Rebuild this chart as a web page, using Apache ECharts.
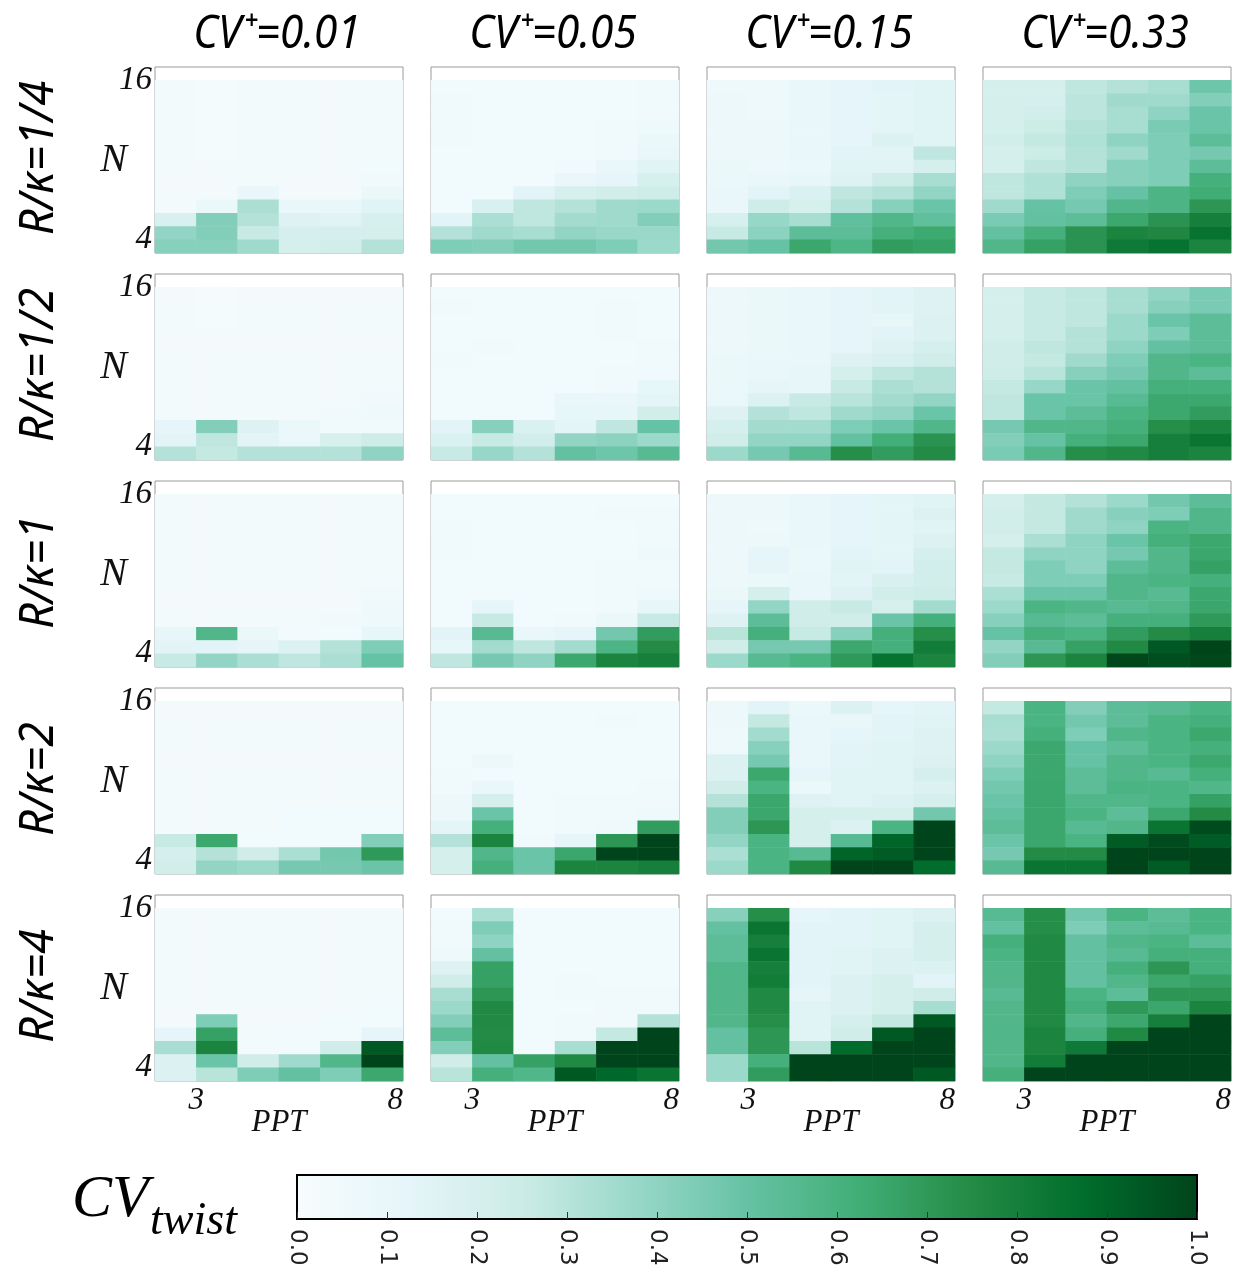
<!DOCTYPE html>
<html>
<head>
<meta charset="utf-8">
<script src="https://cdn.jsdelivr.net/npm/echarts@6/dist/echarts.min.js"></script>
<style>
  html, body { margin: 0; padding: 0; background: #ffffff; }
  #chart { width: 1239px; height: 1272px; }
</style>
</head>
<body>
<div id="chart"></div>
<script>
// Axes of every panel
const PPT = [3, 4, 5, 6, 7, 8];
const N_SLOTS = [4, 5, 6, 7, 8, 9, 10, 11, 12, 13, 14, 15, 16, 17]; // 17 is an empty headroom row
const X_TICKS = [3, 8];
const Y_TICKS = [4, 16];
const CV_LEVELS = ['0.01', '0.05', '0.15', '0.33'];
const RK_LEVELS = ['1/4', '1/2', '1', '2', '4'];
const CBAR_TICKS = [0, 0.1, 0.2, 0.3, 0.4, 0.5, 0.6, 0.7, 0.8, 0.9, 1.0];
// matplotlib BuGn
const BUGN = ['#f7fcfd', '#e5f5f9', '#ccece6', '#99d8c9', '#66c2a4', '#41ae76', '#238b45', '#006d2c', '#00441b'];

// CV_twist per panel: rows from N=16 (top) down to N=4, columns PPT 3..8
const cv001_rk1_4 = [
  [0.03,0.02,0.03,0.03,0.03,0.03],
  [0.03,0.02,0.03,0.03,0.03,0.03],
  [0.03,0.02,0.03,0.03,0.03,0.03],
  [0.03,0.02,0.03,0.03,0.03,0.03],
  [0.03,0.02,0.03,0.03,0.03,0.03],
  [0.03,0.02,0.03,0.03,0.03,0.03],
  [0.03,0.03,0.03,0.03,0.03,0.04],
  [0.03,0.03,0.03,0.03,0.03,0.05],
  [0.03,0.03,0.10,0.03,0.03,0.08],
  [0.03,0.08,0.33,0.09,0.09,0.15],
  [0.19,0.43,0.31,0.16,0.15,0.20],
  [0.39,0.43,0.26,0.21,0.21,0.21],
  [0.42,0.42,0.36,0.21,0.22,0.31]
];
const cv005_rk1_4 = [
  [0.04,0.04,0.04,0.04,0.04,0.05],
  [0.05,0.04,0.04,0.04,0.04,0.05],
  [0.05,0.04,0.04,0.04,0.04,0.05],
  [0.05,0.04,0.04,0.04,0.05,0.06],
  [0.05,0.04,0.04,0.04,0.05,0.08],
  [0.04,0.04,0.04,0.04,0.05,0.10],
  [0.04,0.04,0.04,0.05,0.10,0.15],
  [0.04,0.04,0.04,0.09,0.12,0.20],
  [0.04,0.04,0.14,0.20,0.22,0.24],
  [0.04,0.19,0.28,0.31,0.36,0.37],
  [0.14,0.33,0.28,0.35,0.36,0.43],
  [0.31,0.36,0.34,0.39,0.375,0.375],
  [0.44,0.43,0.47,0.47,0.44,0.37]
];
const cv015_rk1_4 = [
  [0.06,0.06,0.10,0.12,0.14,0.15],
  [0.07,0.06,0.10,0.12,0.13,0.15],
  [0.07,0.06,0.10,0.12,0.13,0.15],
  [0.07,0.07,0.09,0.12,0.13,0.15],
  [0.07,0.07,0.09,0.12,0.17,0.15],
  [0.07,0.07,0.09,0.14,0.14,0.28],
  [0.08,0.07,0.08,0.15,0.15,0.21],
  [0.08,0.10,0.11,0.16,0.24,0.34],
  [0.10,0.14,0.18,0.28,0.31,0.39],
  [0.10,0.24,0.20,0.31,0.42,0.49],
  [0.20,0.38,0.34,0.52,0.57,0.52],
  [0.26,0.41,0.53,0.53,0.61,0.64],
  [0.47,0.50,0.65,0.58,0.69,0.67]
];
const cv033_rk1_4 = [
  [0.21,0.21,0.28,0.31,0.34,0.48],
  [0.21,0.21,0.29,0.36,0.36,0.43],
  [0.21,0.22,0.29,0.34,0.40,0.49],
  [0.21,0.25,0.31,0.34,0.45,0.49],
  [0.22,0.27,0.32,0.40,0.44,0.53],
  [0.21,0.25,0.31,0.36,0.44,0.46],
  [0.21,0.28,0.31,0.42,0.44,0.53],
  [0.28,0.32,0.40,0.42,0.44,0.61],
  [0.28,0.32,0.44,0.50,0.585,0.63],
  [0.36,0.50,0.46,0.57,0.585,0.71],
  [0.45,0.51,0.53,0.645,0.72,0.80],
  [0.51,0.61,0.72,0.78,0.765,0.85],
  [0.57,0.67,0.72,0.82,0.85,0.78]
];

const cv001_rk1_2 = [
  [0.03,0.02,0.03,0.03,0.03,0.03],
  [0.03,0.02,0.03,0.03,0.03,0.03],
  [0.03,0.02,0.03,0.03,0.03,0.03],
  [0.03,0.03,0.03,0.03,0.03,0.03],
  [0.03,0.03,0.03,0.03,0.03,0.03],
  [0.03,0.03,0.03,0.03,0.03,0.03],
  [0.03,0.03,0.03,0.03,0.03,0.03],
  [0.03,0.03,0.03,0.03,0.03,0.03],
  [0.03,0.03,0.03,0.03,0.03,0.05],
  [0.03,0.03,0.03,0.03,0.05,0.06],
  [0.12,0.43,0.16,0.08,0.05,0.05],
  [0.14,0.28,0.14,0.10,0.20,0.24],
  [0.31,0.27,0.31,0.31,0.31,0.40]
];
const cv005_rk1_2 = [
  [0.04,0.04,0.04,0.04,0.04,0.04],
  [0.05,0.04,0.04,0.04,0.05,0.04],
  [0.04,0.04,0.04,0.04,0.05,0.04],
  [0.04,0.04,0.04,0.04,0.05,0.04],
  [0.04,0.05,0.04,0.04,0.04,0.05],
  [0.05,0.04,0.04,0.04,0.04,0.05],
  [0.04,0.04,0.04,0.04,0.05,0.05],
  [0.04,0.04,0.04,0.04,0.05,0.11],
  [0.04,0.04,0.04,0.10,0.10,0.13],
  [0.04,0.04,0.04,0.11,0.11,0.22],
  [0.14,0.42,0.18,0.13,0.28,0.50],
  [0.18,0.26,0.22,0.39,0.41,0.37],
  [0.26,0.38,0.31,0.51,0.48,0.55]
];
const cv015_rk1_2 = [
  [0.07,0.08,0.10,0.12,0.14,0.16],
  [0.07,0.08,0.10,0.12,0.14,0.16],
  [0.07,0.08,0.10,0.12,0.11,0.17],
  [0.07,0.08,0.10,0.12,0.14,0.17],
  [0.07,0.08,0.10,0.12,0.16,0.21],
  [0.08,0.10,0.10,0.16,0.19,0.23],
  [0.08,0.10,0.11,0.21,0.28,0.31],
  [0.08,0.12,0.11,0.26,0.33,0.31],
  [0.10,0.17,0.26,0.30,0.35,0.39],
  [0.16,0.31,0.28,0.36,0.39,0.49],
  [0.21,0.35,0.35,0.44,0.49,0.57],
  [0.23,0.39,0.39,0.51,0.62,0.72],
  [0.37,0.46,0.55,0.74,0.69,0.75]
];
const cv033_rk1_2 = [
  [0.21,0.26,0.28,0.34,0.39,0.45],
  [0.21,0.26,0.28,0.34,0.42,0.45],
  [0.21,0.26,0.28,0.37,0.49,0.53],
  [0.21,0.26,0.31,0.37,0.44,0.53],
  [0.23,0.28,0.31,0.40,0.51,0.53],
  [0.23,0.27,0.36,0.44,0.57,0.59],
  [0.24,0.30,0.42,0.46,0.57,0.53],
  [0.27,0.38,0.49,0.51,0.61,0.61],
  [0.28,0.49,0.49,0.55,0.645,0.645],
  [0.28,0.49,0.53,0.59,0.645,0.69],
  [0.46,0.57,0.57,0.61,0.74,0.78],
  [0.43,0.50,0.61,0.645,0.80,0.84],
  [0.45,0.57,0.74,0.76,0.80,0.78]
];

const cv001_rk1 = [
  [0.03,0.03,0.03,0.03,0.03,0.03],
  [0.03,0.03,0.03,0.03,0.03,0.03],
  [0.03,0.03,0.03,0.03,0.03,0.03],
  [0.03,0.03,0.03,0.03,0.03,0.03],
  [0.03,0.03,0.03,0.03,0.03,0.03],
  [0.03,0.03,0.03,0.03,0.03,0.03],
  [0.03,0.03,0.03,0.03,0.03,0.03],
  [0.03,0.03,0.03,0.03,0.03,0.05],
  [0.03,0.03,0.03,0.03,0.03,0.06],
  [0.03,0.03,0.03,0.03,0.05,0.06],
  [0.11,0.57,0.08,0.04,0.04,0.11],
  [0.14,0.14,0.12,0.17,0.31,0.44],
  [0.26,0.39,0.33,0.28,0.33,0.50]
];
const cv005_rk1 = [
  [0.04,0.04,0.04,0.04,0.04,0.04],
  [0.04,0.04,0.04,0.04,0.05,0.05],
  [0.05,0.04,0.04,0.04,0.04,0.05],
  [0.05,0.04,0.04,0.04,0.04,0.05],
  [0.05,0.04,0.04,0.04,0.04,0.06],
  [0.04,0.04,0.04,0.04,0.05,0.05],
  [0.04,0.04,0.04,0.04,0.05,0.05],
  [0.04,0.04,0.04,0.04,0.05,0.06],
  [0.04,0.12,0.04,0.04,0.05,0.11],
  [0.04,0.26,0.04,0.05,0.08,0.26],
  [0.14,0.55,0.09,0.12,0.47,0.69],
  [0.11,0.35,0.28,0.35,0.585,0.75],
  [0.28,0.46,0.40,0.645,0.78,0.80]
];
const cv015_rk1 = [
  [0.07,0.07,0.10,0.12,0.13,0.15],
  [0.07,0.07,0.10,0.12,0.13,0.17],
  [0.07,0.06,0.10,0.12,0.13,0.15],
  [0.07,0.07,0.10,0.12,0.13,0.17],
  [0.07,0.12,0.08,0.14,0.13,0.21],
  [0.07,0.12,0.08,0.15,0.14,0.22],
  [0.07,0.08,0.10,0.14,0.19,0.22],
  [0.08,0.21,0.10,0.16,0.22,0.24],
  [0.12,0.39,0.23,0.26,0.21,0.35],
  [0.16,0.53,0.23,0.23,0.49,0.61],
  [0.30,0.61,0.26,0.42,0.61,0.74],
  [0.23,0.46,0.46,0.645,0.61,0.81],
  [0.37,0.55,0.59,0.70,0.85,0.78]
];
const cv033_rk1 = [
  [0.21,0.27,0.31,0.37,0.47,0.53],
  [0.22,0.27,0.36,0.42,0.44,0.57],
  [0.22,0.27,0.36,0.40,0.59,0.57],
  [0.21,0.33,0.40,0.49,0.61,0.645],
  [0.27,0.40,0.40,0.46,0.57,0.65],
  [0.27,0.44,0.40,0.53,0.57,0.67],
  [0.26,0.44,0.44,0.57,0.59,0.61],
  [0.33,0.49,0.49,0.57,0.55,0.645],
  [0.37,0.59,0.57,0.55,0.57,0.65],
  [0.42,0.55,0.53,0.61,0.61,0.70],
  [0.50,0.61,0.59,0.69,0.75,0.80],
  [0.39,0.55,0.67,0.76,0.94,1.00],
  [0.43,0.71,0.78,0.99,0.97,0.99]
];

const cv001_rk2 = [
  [0.03,0.03,0.03,0.03,0.03,0.03],
  [0.03,0.03,0.03,0.03,0.03,0.03],
  [0.03,0.03,0.03,0.03,0.03,0.03],
  [0.03,0.03,0.03,0.03,0.03,0.03],
  [0.03,0.03,0.03,0.03,0.03,0.03],
  [0.03,0.03,0.03,0.03,0.03,0.03],
  [0.03,0.03,0.03,0.03,0.03,0.03],
  [0.03,0.03,0.03,0.03,0.03,0.03],
  [0.03,0.03,0.03,0.04,0.04,0.04],
  [0.03,0.03,0.03,0.04,0.04,0.04],
  [0.26,0.645,0.04,0.04,0.04,0.43],
  [0.21,0.31,0.23,0.33,0.47,0.70],
  [0.22,0.39,0.37,0.46,0.46,0.49]
];
const cv005_rk2 = [
  [0.04,0.04,0.04,0.04,0.04,0.04],
  [0.04,0.04,0.04,0.04,0.05,0.04],
  [0.04,0.04,0.04,0.04,0.04,0.04],
  [0.04,0.04,0.04,0.04,0.04,0.04],
  [0.04,0.07,0.04,0.04,0.04,0.04],
  [0.05,0.04,0.04,0.04,0.04,0.04],
  [0.05,0.10,0.04,0.04,0.04,0.05],
  [0.07,0.21,0.04,0.05,0.05,0.05],
  [0.07,0.49,0.04,0.05,0.05,0.06],
  [0.13,0.61,0.04,0.05,0.06,0.69],
  [0.31,0.78,0.05,0.12,0.71,1.00],
  [0.21,0.57,0.49,0.65,1.00,1.00],
  [0.21,0.61,0.49,0.78,0.78,0.80]
];
const cv015_rk2 = [
  [0.07,0.14,0.08,0.17,0.12,0.14],
  [0.07,0.27,0.10,0.10,0.14,0.15],
  [0.06,0.35,0.10,0.12,0.14,0.16],
  [0.06,0.42,0.10,0.14,0.15,0.16],
  [0.17,0.46,0.10,0.14,0.15,0.17],
  [0.17,0.645,0.12,0.15,0.15,0.21],
  [0.23,0.59,0.08,0.15,0.15,0.17],
  [0.31,0.65,0.16,0.15,0.17,0.21],
  [0.43,0.65,0.21,0.21,0.21,0.47],
  [0.43,0.71,0.21,0.17,0.59,1.00],
  [0.39,0.59,0.21,0.55,0.90,1.00],
  [0.33,0.59,0.55,0.90,0.93,1.00],
  [0.37,0.59,0.76,1.00,1.00,0.875]
];
const cv033_rk2 = [
  [0.27,0.59,0.43,0.53,0.55,0.59],
  [0.34,0.59,0.47,0.53,0.59,0.61],
  [0.33,0.61,0.44,0.57,0.59,0.645],
  [0.37,0.645,0.50,0.53,0.59,0.61],
  [0.40,0.645,0.50,0.57,0.59,0.645],
  [0.44,0.645,0.53,0.57,0.55,0.61],
  [0.47,0.65,0.53,0.59,0.59,0.57],
  [0.49,0.65,0.57,0.57,0.59,0.67],
  [0.51,0.65,0.59,0.53,0.645,0.75],
  [0.53,0.65,0.55,0.57,0.84,0.98],
  [0.49,0.65,0.59,0.93,0.98,0.93],
  [0.46,0.75,0.75,1.00,1.00,1.00],
  [0.55,0.84,0.84,1.00,0.93,1.00]
];

const cv001_rk4 = [
  [0.03,0.03,0.03,0.03,0.03,0.03],
  [0.03,0.03,0.03,0.03,0.03,0.03],
  [0.03,0.03,0.03,0.03,0.03,0.03],
  [0.03,0.03,0.03,0.03,0.03,0.03],
  [0.03,0.03,0.03,0.03,0.03,0.03],
  [0.03,0.03,0.03,0.03,0.03,0.03],
  [0.03,0.03,0.03,0.03,0.03,0.03],
  [0.03,0.03,0.03,0.03,0.03,0.04],
  [0.03,0.44,0.03,0.03,0.04,0.04],
  [0.12,0.67,0.03,0.04,0.04,0.12],
  [0.34,0.78,0.04,0.04,0.23,0.94],
  [0.17,0.49,0.23,0.36,0.57,1.00],
  [0.17,0.30,0.44,0.51,0.44,0.645]
];
const cv005_rk4 = [
  [0.04,0.33,0.04,0.04,0.04,0.04],
  [0.05,0.44,0.04,0.04,0.04,0.04],
  [0.05,0.40,0.04,0.04,0.04,0.04],
  [0.06,0.51,0.04,0.04,0.04,0.04],
  [0.16,0.67,0.04,0.04,0.04,0.04],
  [0.23,0.67,0.04,0.05,0.04,0.04],
  [0.34,0.71,0.04,0.05,0.05,0.05],
  [0.37,0.76,0.04,0.04,0.05,0.05],
  [0.43,0.76,0.04,0.05,0.05,0.31],
  [0.53,0.75,0.04,0.05,0.27,1.00],
  [0.43,0.76,0.04,0.34,1.00,1.00],
  [0.23,0.51,0.67,0.76,1.00,1.00],
  [0.30,0.61,0.57,0.94,0.89,0.84]
];
const cv015_rk4 = [
  [0.42,0.74,0.12,0.14,0.15,0.17],
  [0.51,0.84,0.14,0.14,0.15,0.21],
  [0.53,0.80,0.14,0.14,0.15,0.21],
  [0.53,0.84,0.14,0.15,0.17,0.21],
  [0.57,0.80,0.14,0.15,0.17,0.17],
  [0.57,0.81,0.14,0.17,0.21,0.14],
  [0.57,0.76,0.12,0.17,0.21,0.23],
  [0.57,0.76,0.15,0.17,0.21,0.34],
  [0.57,0.74,0.15,0.21,0.27,0.94],
  [0.51,0.71,0.15,0.23,0.94,1.00],
  [0.51,0.71,0.30,0.88,1.00,1.00],
  [0.37,0.61,1.00,1.00,1.00,1.00],
  [0.37,0.69,1.00,1.00,1.00,0.94]
];
const cv033_rk4 = [
  [0.55,0.74,0.47,0.59,0.53,0.59],
  [0.51,0.74,0.44,0.53,0.55,0.59],
  [0.61,0.76,0.51,0.57,0.59,0.53],
  [0.59,0.76,0.51,0.55,0.61,0.61],
  [0.57,0.76,0.51,0.61,0.71,0.61],
  [0.57,0.76,0.51,0.57,0.645,0.67],
  [0.55,0.76,0.59,0.53,0.71,0.71],
  [0.57,0.76,0.61,0.70,0.65,0.78],
  [0.57,0.76,0.57,0.645,0.80,1.00],
  [0.57,0.78,0.61,0.76,1.00,1.00],
  [0.57,0.78,0.82,1.00,1.00,1.00],
  [0.57,0.81,1.00,1.00,1.00,1.00],
  [0.61,1.00,1.00,1.00,1.00,1.00]
];

// Panel layout: rows R/kappa, columns CV+
const PANELS = [
  [cv001_rk1_4, cv005_rk1_4, cv015_rk1_4, cv033_rk1_4],
  [cv001_rk1_2, cv005_rk1_2, cv015_rk1_2, cv033_rk1_2],
  [cv001_rk1,   cv005_rk1,   cv015_rk1,   cv033_rk1],
  [cv001_rk2,   cv005_rk2,   cv015_rk2,   cv033_rk2],
  [cv001_rk4,   cv005_rk4,   cv015_rk4,   cv033_rk4]
];

const PANEL_LEFT = 155, PANEL_TOP = 67, PANEL_W = 248, PANEL_H = 186, STEP_X = 276, STEP_Y = 207;
const SERIF_IT = { fontFamily: 'Liberation Serif', fontStyle: 'italic', color: '#111' };
const SANS_IT = { fontFamily: 'Noto Sans', fontStyle: 'italic' };

const grid = [], xAxis = [], yAxis = [], series = [], graphic = [];
const nRows = PANELS.length;

PANELS.forEach((row, r) => {
  row.forEach((panel, c) => {
    const g = grid.length;
    const left = PANEL_LEFT + c * STEP_X;
    const top = PANEL_TOP + r * STEP_Y;
    grid.push({
      left, top, width: PANEL_W, height: PANEL_H,
      show: true, borderColor: '#9a9a9a', borderWidth: 1, backgroundColor: 'transparent'
    });
    // category axes carry the cells
    const xCat = xAxis.length;
    xAxis.push({ type: 'category', gridIndex: g, data: PPT.map(String), show: false });
    const yCat = yAxis.length;
    yAxis.push({ type: 'category', gridIndex: g, data: N_SLOTS.map(String), show: false });
    // value axes carry the tick labels
    const bottomRow = r === nRows - 1, firstCol = c === 0;
    xAxis.push({
      type: 'value', gridIndex: g, min: 2, max: 8, position: 'bottom',
      show: bottomRow,
      axisLine: { show: false }, axisTick: { show: false }, splitLine: { show: false },
      axisLabel: { customValues: X_TICKS, margin: 4, fontSize: 31, alignMaxLabel: 'right', ...SERIF_IT },
      name: 'PPT', nameLocation: 'middle', nameGap: 26, nameMoveOverlap: false,
      nameTextStyle: { fontSize: 31, ...SERIF_IT }
    });
    yAxis.push({
      type: 'value', gridIndex: g, min: 3, max: 17, position: 'left',
      show: firstCol,
      axisLine: { show: false }, axisTick: { show: false }, splitLine: { show: false },
      axisLabel: { customValues: Y_TICKS, margin: 3, fontSize: 33, ...SERIF_IT },
      name: 'N', nameLocation: 'middle', nameGap: 28, nameRotate: 0, nameMoveOverlap: false,
      nameTextStyle: { fontSize: 40, ...SERIF_IT }
    });
    const data = [];
    panel.forEach((vals, i) => {
      const nIndex = panel.length - 1 - i; // first listed row is N=16
      vals.forEach((v, j) => data.push([j, nIndex, v]));
    });
    series.push({
      type: 'heatmap', xAxisIndex: xCat, yAxisIndex: yCat, data,
      itemStyle: { borderWidth: 0 }, emphasis: { disabled: true }, progressive: 0
    });
  });
});

// column titles
CV_LEVELS.forEach((cv, c) => {
  graphic.push({
    type: 'text', x: PANEL_LEFT + c * STEP_X + PANEL_W / 2 - 2, y: 35, scaleX: 0.92,
    style: { text: 'CV\u207A=' + cv, ...SANS_IT, fontSize: 46, align: 'center', verticalAlign: 'middle', fill: '#000' },
    silent: true
  });
});
// row titles
RK_LEVELS.forEach((rk, r) => {
  graphic.push({
    type: 'text', x: 40, y: PANEL_TOP + r * STEP_Y + PANEL_H / 2 - 2, rotation: Math.PI / 2, scaleX: 0.95,
    style: { text: 'R/\u03BA=' + rk, ...SANS_IT, fontSize: 47, align: 'center', verticalAlign: 'middle', fill: '#000' },
    silent: true
  });
});

// colour bar
const CBAR = { left: 297, top: 1175, width: 900, height: 44 };
const cbarIndex = grid.length;
grid.push({
  ...CBAR, show: true, borderColor: '#000', borderWidth: 2,
  backgroundColor: new echarts.graphic.LinearGradient(0, 0, 1, 0,
    BUGN.map((color, k) => ({ offset: k / (BUGN.length - 1), color })))
});
xAxis.push({
  type: 'value', gridIndex: cbarIndex, min: 0, max: 1, interval: 0.1, position: 'bottom',
  axisLine: { show: false }, splitLine: { show: false },
  axisTick: { show: true, inside: true, length: 7, lineStyle: { color: '#333', width: 1 } },
  axisLabel: {
    customValues: CBAR_TICKS, rotate: -90, margin: 10, fontSize: 23,
    fontFamily: 'DejaVu Sans', color: '#222', formatter: v => v.toFixed(1)
  }
});
yAxis.push({ type: 'value', gridIndex: cbarIndex, show: false });
graphic.push({
  type: 'text', x: 72, y: 1200,
  style: { text: 'CV', fontFamily: 'Liberation Serif', fontStyle: 'italic', fontSize: 60, fill: '#000', verticalAlign: 'middle' },
  silent: true
});
graphic.push({
  type: 'text', x: 150, y: 1222,
  style: { text: 'twist', fontFamily: 'Liberation Serif', fontStyle: 'italic', fontSize: 46, fill: '#000', verticalAlign: 'middle' },
  silent: true
});

const chart = echarts.init(document.getElementById('chart'), null, { renderer: 'canvas' });
chart.setOption({
  animation: false,
  backgroundColor: '#ffffff',
  grid, xAxis, yAxis, series, graphic,
  visualMap: {
    type: 'continuous', show: false, min: 0, max: 1,
    seriesIndex: series.map((_, i) => i),
    inRange: { color: BUGN }
  }
});
</script>
</body>
</html>
